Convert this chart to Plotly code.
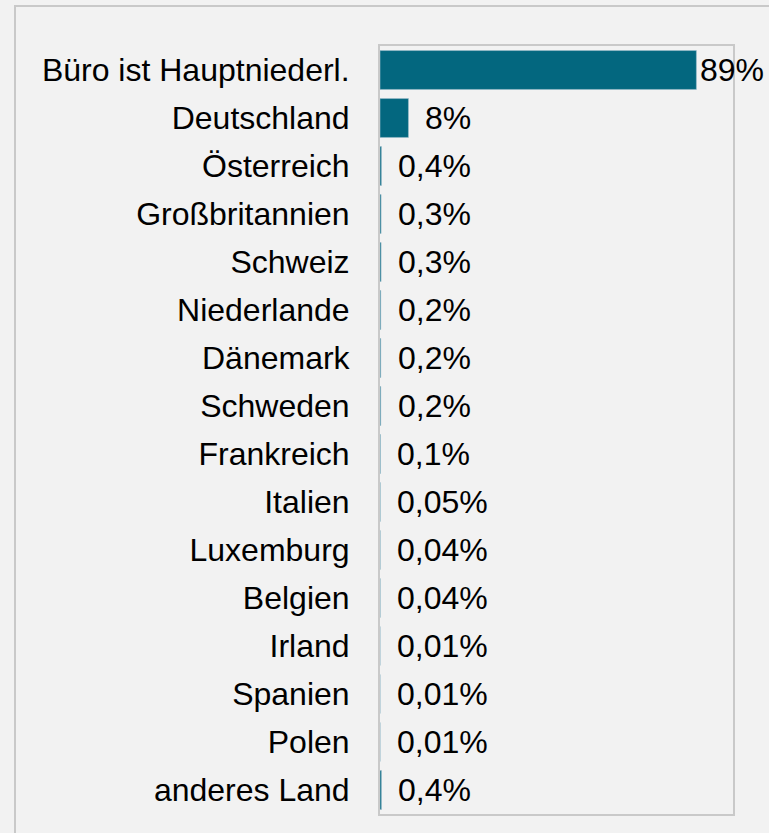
import plotly.graph_objects as go

# Share of offices by location of headquarters
categories = [
    "Büro ist Hauptniederl.", "Deutschland", "Österreich", "Großbritannien",
    "Schweiz", "Niederlande", "Dänemark", "Schweden", "Frankreich", "Italien",
    "Luxemburg", "Belgien", "Irland", "Spanien", "Polen", "anderes Land",
]
values = [89, 8, 0.4, 0.3, 0.3, 0.2, 0.2, 0.2, 0.1, 0.05, 0.04, 0.04, 0.01, 0.01, 0.01, 0.4]


def pct_label(v):
    return f"{v:g}".replace(".", ",") + "%"


W, H = 769, 833
ML, MR, MT, MB = 380, 36, 46, 19
FONT = "Liberation Sans, Arial, sans-serif"
FS = 32
BAR = "#03677f"
FRAME = "#c9c9c9"
XMAX = 99.3

fig = go.Figure(
    go.Bar(
        x=values,
        y=categories,
        orientation="h",
        width=0.81,
        marker=dict(color=BAR, line=dict(color="#9fc0cc", width=0.6)),
        hoverinfo="skip",
    )
)

# value labels to the right of each bar
for cat, v in zip(categories, values):
    fig.add_annotation(
        x=v, y=cat, text=pct_label(v), showarrow=False,
        xanchor="left", yanchor="middle",
        xshift=2 if v > 0.8 * XMAX else 15,
        font=dict(family=FONT, size=FS, color="#000000"),
    )

# outer frame around the chart area
pw, ph = W - ML - MR, H - MT - MB
fig.add_shape(
    type="rect", xref="paper", yref="paper", layer="below",
    x0=(15 - ML) / pw, x1=(W + 10 - ML) / pw,
    y0=(H - MB - (H + 10)) / ph, y1=(H - MB - 6) / ph,
    line=dict(color=FRAME, width=2), fillcolor="rgba(0,0,0,0)",
)

fig.update_layout(
    width=W, height=H,
    margin=dict(l=ML, r=MR, t=MT, b=MB, pad=0),
    paper_bgcolor="#f2f2f2", plot_bgcolor="#f2f2f2",
    showlegend=False,
    font=dict(family=FONT, size=FS, color="#000000"),
)
fig.update_xaxes(
    range=[0, XMAX], showticklabels=False, showgrid=False, zeroline=False,
    showline=True, mirror=True, linecolor=FRAME, linewidth=2, ticks="",
)
fig.update_yaxes(
    autorange="reversed", showgrid=False, zeroline=False,
    showline=True, mirror=True, linecolor=FRAME, linewidth=2,
    ticks="", ticklabelstandoff=22,
    tickfont=dict(family=FONT, size=FS, color="#000000"),
)

fig.write_html("out.html")
